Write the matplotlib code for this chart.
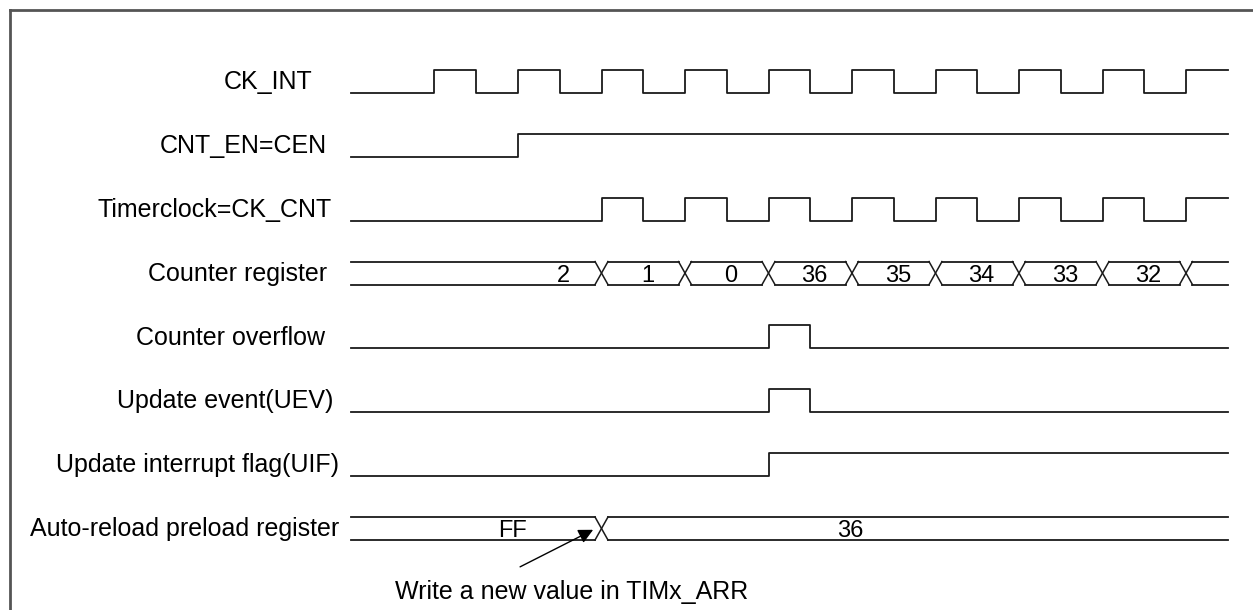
import matplotlib
matplotlib.use("Agg")
import matplotlib.pyplot as plt

plt.rcParams['font.family'] = ['Liberation Sans', 'DejaVu Sans']

# signal names, one row each (top to bottom)
labels = ["CK_INT", "CNT_EN=CEN", "Timerclock=CK_CNT", "Counter register",
          "Counter overflow", "Update event(UEV)", "Update interrupt flag(UIF)",
          "Auto-reload preload register"]

# levels per half clock period, t = 0..20 (each level holds until next t)
ck_int   = [0, 0, 1, 0, 1, 0, 1, 0, 1, 0, 1, 0, 1, 0, 1, 0, 1, 0, 1, 0, 1]
cnt_en   = [0, 0, 0, 0, 1, 1, 1, 1, 1, 1, 1, 1, 1, 1, 1, 1, 1, 1, 1, 1, 1]
ck_cnt   = [0, 0, 0, 0, 0, 0, 1, 0, 1, 0, 1, 0, 1, 0, 1, 0, 1, 0, 1, 0, 1]
overflow = [0, 0, 0, 0, 0, 0, 0, 0, 0, 0, 1, 0, 0, 0, 0, 0, 0, 0, 0, 0, 0]
uev      = [0, 0, 0, 0, 0, 0, 0, 0, 0, 0, 1, 0, 0, 0, 0, 0, 0, 0, 0, 0, 0]
uif      = [0, 0, 0, 0, 0, 0, 0, 0, 0, 0, 1, 1, 1, 1, 1, 1, 1, 1, 1, 1, 1]

# bus signals: change times and values in between
counter_times  = [0, 6, 8, 10, 12, 14, 16, 18, 20, 21]
counter_values = ["2", "1", "0", "36", "35", "34", "33", "32", ""]
arr_times  = [0, 6, 21]
arr_values = ["FF", "36"]
arr_text_t = [3.88, 11.95]

note = "Write a new value in TIMx_ARR"

# layout (pixel scale: 41.75 px per half period, 63.86 px per row)
HI = 0.36          # height of a high level, in rows
XW = 0.155         # half width of a bus crossing, in half periods
label_right = [-0.93, -0.57, -0.45, -0.57, -0.62, -0.43, -0.29, -0.29]
LC = '#1a1a1a'
FS = 18

fig = plt.figure(figsize=(12.53, 6.10), dpi=100)
ax = fig.add_axes([0, 0, 1, 1])
ax.set_xlim(-351 / 41.75, (1253 - 351) / 41.75)
ax.set_ylim((610 - 93) / 63.86, -93 / 63.86)
ax.axis('off')


def draw_wave(row, levels):
    t = list(range(len(levels) + 1))
    y = [row - HI * v for v in levels] + [row - HI * levels[-1]]
    ax.step(t, y, where='post', color=LC, lw=1.3)


def draw_bus(row, times, values, text_t=None):
    top, bot = row - HI, row
    for i in range(len(times) - 1):
        a, b = times[i], times[i + 1]
        a2 = a + XW if i > 0 else a
        b2 = b - XW if i < len(times) - 2 else b
        ax.plot([a2, b2], [top, top], color=LC, lw=1.3)
        ax.plot([a2, b2], [bot, bot], color=LC, lw=1.3)
        if i > 0:
            ax.plot([a - XW, a + XW], [top, bot], color=LC, lw=1.1)
            ax.plot([a - XW, a + XW], [bot, top], color=LC, lw=1.1)
        if values[i]:
            tx = text_t[i] if text_t else b - 0.9
            ax.text(tx, row - 0.04, values[i], ha='center', va='baseline',
                    fontsize=FS - 1)


waves = {0: ck_int, 1: cnt_en, 2: ck_cnt, 4: overflow, 5: uev, 6: uif}
for row, lv in waves.items():
    draw_wave(row, lv)
draw_bus(3, counter_times, counter_values)
draw_bus(7, arr_times, arr_values, arr_text_t)

for row, (name, xr) in enumerate(zip(labels, label_right)):
    ax.text(xr, row - 0.17, name, ha='right', va='center', fontsize=FS)

# arrow to the ARR write point
ax.annotate("", xy=(5.8, 6.84), xytext=(4.05, 7.42),
            arrowprops=dict(arrowstyle='-|>', mutation_scale=22, color='black',
                            lw=1.0, shrinkA=0, shrinkB=0))
ax.text(5.29, 7.81, note, ha='center', va='center', fontsize=FS)

# frame (top and left edges)
ax.plot([9.5 / 1253, 1], [1 - 10 / 610, 1 - 10 / 610], transform=ax.transAxes,
        color='#555555', lw=2, clip_on=False)
ax.plot([9.5 / 1253, 9.5 / 1253], [0, 1 - 10 / 610], transform=ax.transAxes,
        color='#555555', lw=2, clip_on=False)

plt.savefig("out.png", dpi=100)
